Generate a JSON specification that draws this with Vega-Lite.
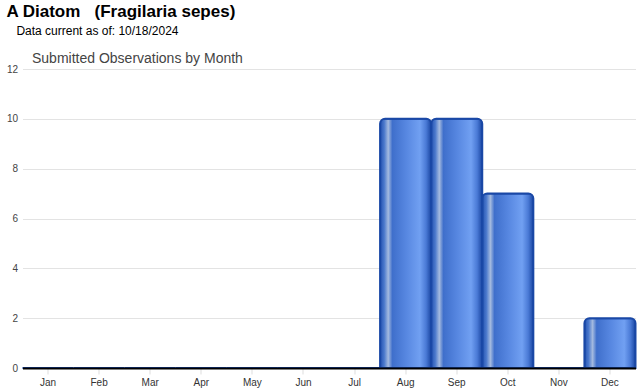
{
  "$schema": "https://vega.github.io/schema/vega-lite/v6.json",
  "autosize": "none",
  "width": 613,
  "height": 299,
  "padding": {"left": 22.5, "top": 69, "right": 4.5, "bottom": 22},
  "background": "white",
  "title": {
    "text": "A Diatom\u00a0\u00a0 (Fragilaria sepes)",
    "subtitle": "\u200b\u00a0\u00a0\u00a0Data current as of: 10/18/2024",
    "anchor": "start",
    "frame": "bounds",
    "font": "Liberation Sans",
    "fontSize": 17,
    "fontWeight": "bold",
    "color": "#000000",
    "subtitleFont": "Liberation Sans",
    "subtitleFontSize": 12,
    "subtitleColor": "#000000",
    "subtitlePadding": 5,
    "offset": 13
  },
  "data": {
    "values": [
      {"month": "Jan", "count": 0},
      {"month": "Feb", "count": 0},
      {"month": "Mar", "count": 0},
      {"month": "Apr", "count": 0},
      {"month": "May", "count": 0},
      {"month": "Jun", "count": 0},
      {"month": "Jul", "count": 0},
      {"month": "Aug", "count": 10},
      {"month": "Sep", "count": 10},
      {"month": "Oct", "count": 7},
      {"month": "Nov", "count": 0},
      {"month": "Dec", "count": 2}
    ]
  },
  "mark": {
    "type": "bar",
    "cornerRadiusTopLeft": 5,
    "cornerRadiusTopRight": 5,
    "stroke": "#1a48a6",
    "strokeWidth": 2,
    "fill": {
      "gradient": "linear",
      "x1": 0, "x2": 1, "y1": 0, "y2": 0,
      "stops": [
        {"offset": 0, "color": "#2452b0"},
        {"offset": 0.08, "color": "#4a78cc"},
        {"offset": 0.16, "color": "#a4badf"},
        {"offset": 0.24, "color": "#3f6fcb"},
        {"offset": 0.5, "color": "#5686e0"},
        {"offset": 0.78, "color": "#71a0f2"},
        {"offset": 0.9, "color": "#4a7ad6"},
        {"offset": 1, "color": "#1a46a2"}
      ]
    }
  },
  "encoding": {
    "opacity": {"condition": {"test": "datum.count > 0", "value": 1}, "value": 0},
    "x": {
      "field": "month",
      "type": "ordinal",
      "sort": null,
      "scale": {"paddingInner": 0, "paddingOuter": 0},
      "axis": {
        "title": null,
        "labelAngle": 0,
        "labelFont": "Liberation Sans",
        "labelFontSize": 10,
        "labelColor": "#333333",
        "labelPadding": 3,
        "domainColor": "#000000",
        "domainWidth": 2,
        "tickColor": "#dddddd",
        "tickSize": 6,
        "grid": false,
        "zindex": 1
      }
    },
    "y": {
      "field": "count",
      "type": "quantitative",
      "scale": {"domain": [0, 12], "nice": false},
      "axis": {
        "values": [0, 2, 4, 6, 8, 10, 12],
        "labelFont": "Liberation Sans",
        "labelFontSize": 10,
        "labelColor": "#444444",
        "labelPadding": 5,
        "ticks": false,
        "domain": false,
        "gridColor": "#e3e3e3",
        "gridWidth": 1,
        "title": "Submitted Observations by Month",
        "titleAngle": 0,
        "titleAlign": "left",
        "titleBaseline": "alphabetic",
        "titleX": 9,
        "titleY": -7,
        "titleFont": "Liberation Sans",
        "titleFontSize": 14,
        "titleFontWeight": "normal",
        "titleColor": "#444444"
      }
    }
  },
  "config": {"view": {"stroke": null}}
}
